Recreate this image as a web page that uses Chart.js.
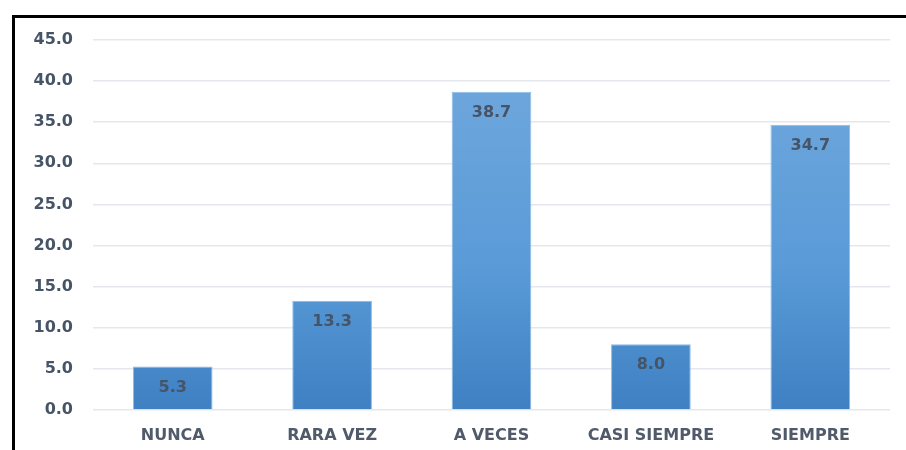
<!DOCTYPE html>
<html>
<head>
<meta charset="utf-8">
<script src="https://cdn.jsdelivr.net/npm/chart.js@4"></script>
<style>
  html, body { margin: 0; padding: 0; background: #ffffff; }
  #wrap { position: relative; width: 906px; height: 450px; overflow: hidden; }
  #frame { position: absolute; left: 12px; top: 15px; width: 900px; height: 440px;
           border-top: 3px solid #000; border-left: 3px solid #000; box-sizing: border-box; pointer-events: none; }
  canvas { position: absolute; left: 0; top: 0; }
</style>
</head>
<body>
<div id="wrap">
  <canvas id="c" width="906" height="450"></canvas>
  <div id="frame"></div>
</div>
<script>
const categories = ["NUNCA", "RARA VEZ", "A VECES", "CASI SIEMPRE", "SIEMPRE"];
const values = [5.3, 13.3, 38.7, 8.0, 34.7];
const yTicks = [0, 5, 10, 15, 20, 25, 30, 35, 40, 45];

const FONT = "'DejaVu Sans', 'Open Sans', sans-serif";

function barGradient(ctx) {
  const chart = ctx.chart;
  const area = chart.chartArea;
  if (!area) return '#5b9bd5';
  const g = chart.ctx.createLinearGradient(0, area.top, 0, area.bottom);
  g.addColorStop(0, '#73a9dd');
  g.addColorStop(0.6, '#5a9bd8');
  g.addColorStop(1, '#3f80c3');
  return g;
}

const valueLabels = {
  id: 'valueLabels',
  afterDatasetsDraw(chart) {
    const ctx = chart.ctx;
    const meta = chart.getDatasetMeta(0);
    ctx.save();
    ctx.font = "bold 16px " + FONT;
    ctx.fillStyle = '#465468';
    ctx.textAlign = 'center';
    ctx.textBaseline = 'middle';
    meta.data.forEach((bar, i) => {
      ctx.fillText(values[i].toFixed(1), bar.x, bar.y + 21);
    });
    ctx.restore();
  }
};

new Chart(document.getElementById('c'), {
  type: 'bar',
  data: {
    labels: categories,
    datasets: [{
      data: values,
      backgroundColor: barGradient,
      borderColor: '#8fbbe6',
      borderWidth: 1,
      barPercentage: 0.5,
      categoryPercentage: 1.0
    }]
  },
  options: {
    responsive: false,
    animation: false,
    devicePixelRatio: 1,
    layout: { padding: { left: 0, right: 16, top: 40, bottom: 0 } },
    plugins: { legend: { display: false }, tooltip: { enabled: false } },
    scales: {
      x: {
        grid: { display: false, drawTicks: false },
        border: { display: false },
        ticks: {
          padding: 16,
          color: '#505a6a',
          font: { family: FONT, size: 16, weight: 'bold' }
        },
        afterFit(scale) { scale.height = 40; }
      },
      y: {
        min: 0,
        max: 45,
        afterBuildTicks(scale) { scale.ticks = yTicks.map(v => ({ value: v })); },
        grid: { color: '#e4e7ee', lineWidth: 1.5, drawTicks: false },
        border: { display: false },
        ticks: {
          padding: 20,
          color: '#465468',
          font: { family: FONT, size: 16, weight: 'bold' },
          callback: v => Number(v).toFixed(1)
        },
        afterFit(scale) { scale.width = 93; }
      }
    }
  },
  plugins: [valueLabels]
});
</script>
</body>
</html>
